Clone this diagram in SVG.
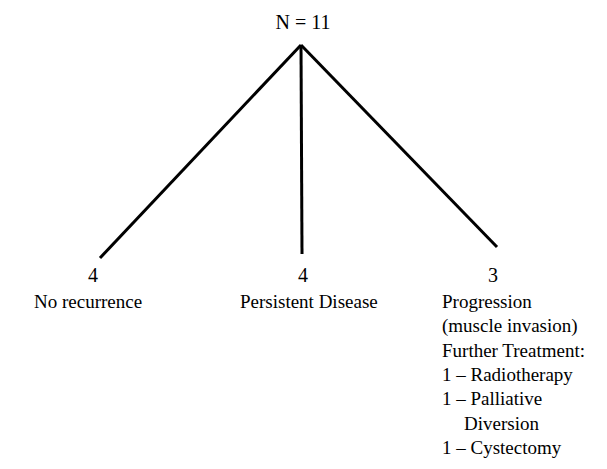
<svg xmlns="http://www.w3.org/2000/svg" width="607" height="469" viewBox="0 0 607 469">
<style>
text{font-family:"Liberation Serif","Times New Roman",serif;font-size:19px;fill:#000}
.c{text-anchor:middle;font-size:20px}
.ln{stroke:#000;stroke-width:3;fill:none;stroke-linecap:butt}
</style>
<rect width="607" height="469" fill="#fff"/>
<g id="connectors">
<line class="ln" x1="301" y1="45" x2="100" y2="258"/>
<line class="ln" x1="301" y1="45" x2="302" y2="254"/>
<line class="ln" x1="301" y1="45" x2="497" y2="247"/>
</g>
<g id="root"><text class="c" x="303" y="29">N = 11</text></g>
<g id="no-recurrence">
<text class="c" x="93" y="282">4</text>
<text x="34" y="308">No recurrence</text>
</g>
<g id="persistent">
<text class="c" x="303" y="282">4</text>
<text x="240" y="308">Persistent Disease</text>
</g>
<g id="progression">
<text class="c" x="493" y="282">3</text>
<text x="442" y="308">Progression</text>
<text x="442" y="332">(muscle invasion)</text>
<text x="442" y="357">Further Treatment:</text>
<text x="442" y="381">1 – Radiotherapy</text>
<text x="442" y="405">1 – Palliative</text>
<text x="464" y="430">Diversion</text>
<text x="442" y="454">1 – Cystectomy</text>
</g>
</svg>
